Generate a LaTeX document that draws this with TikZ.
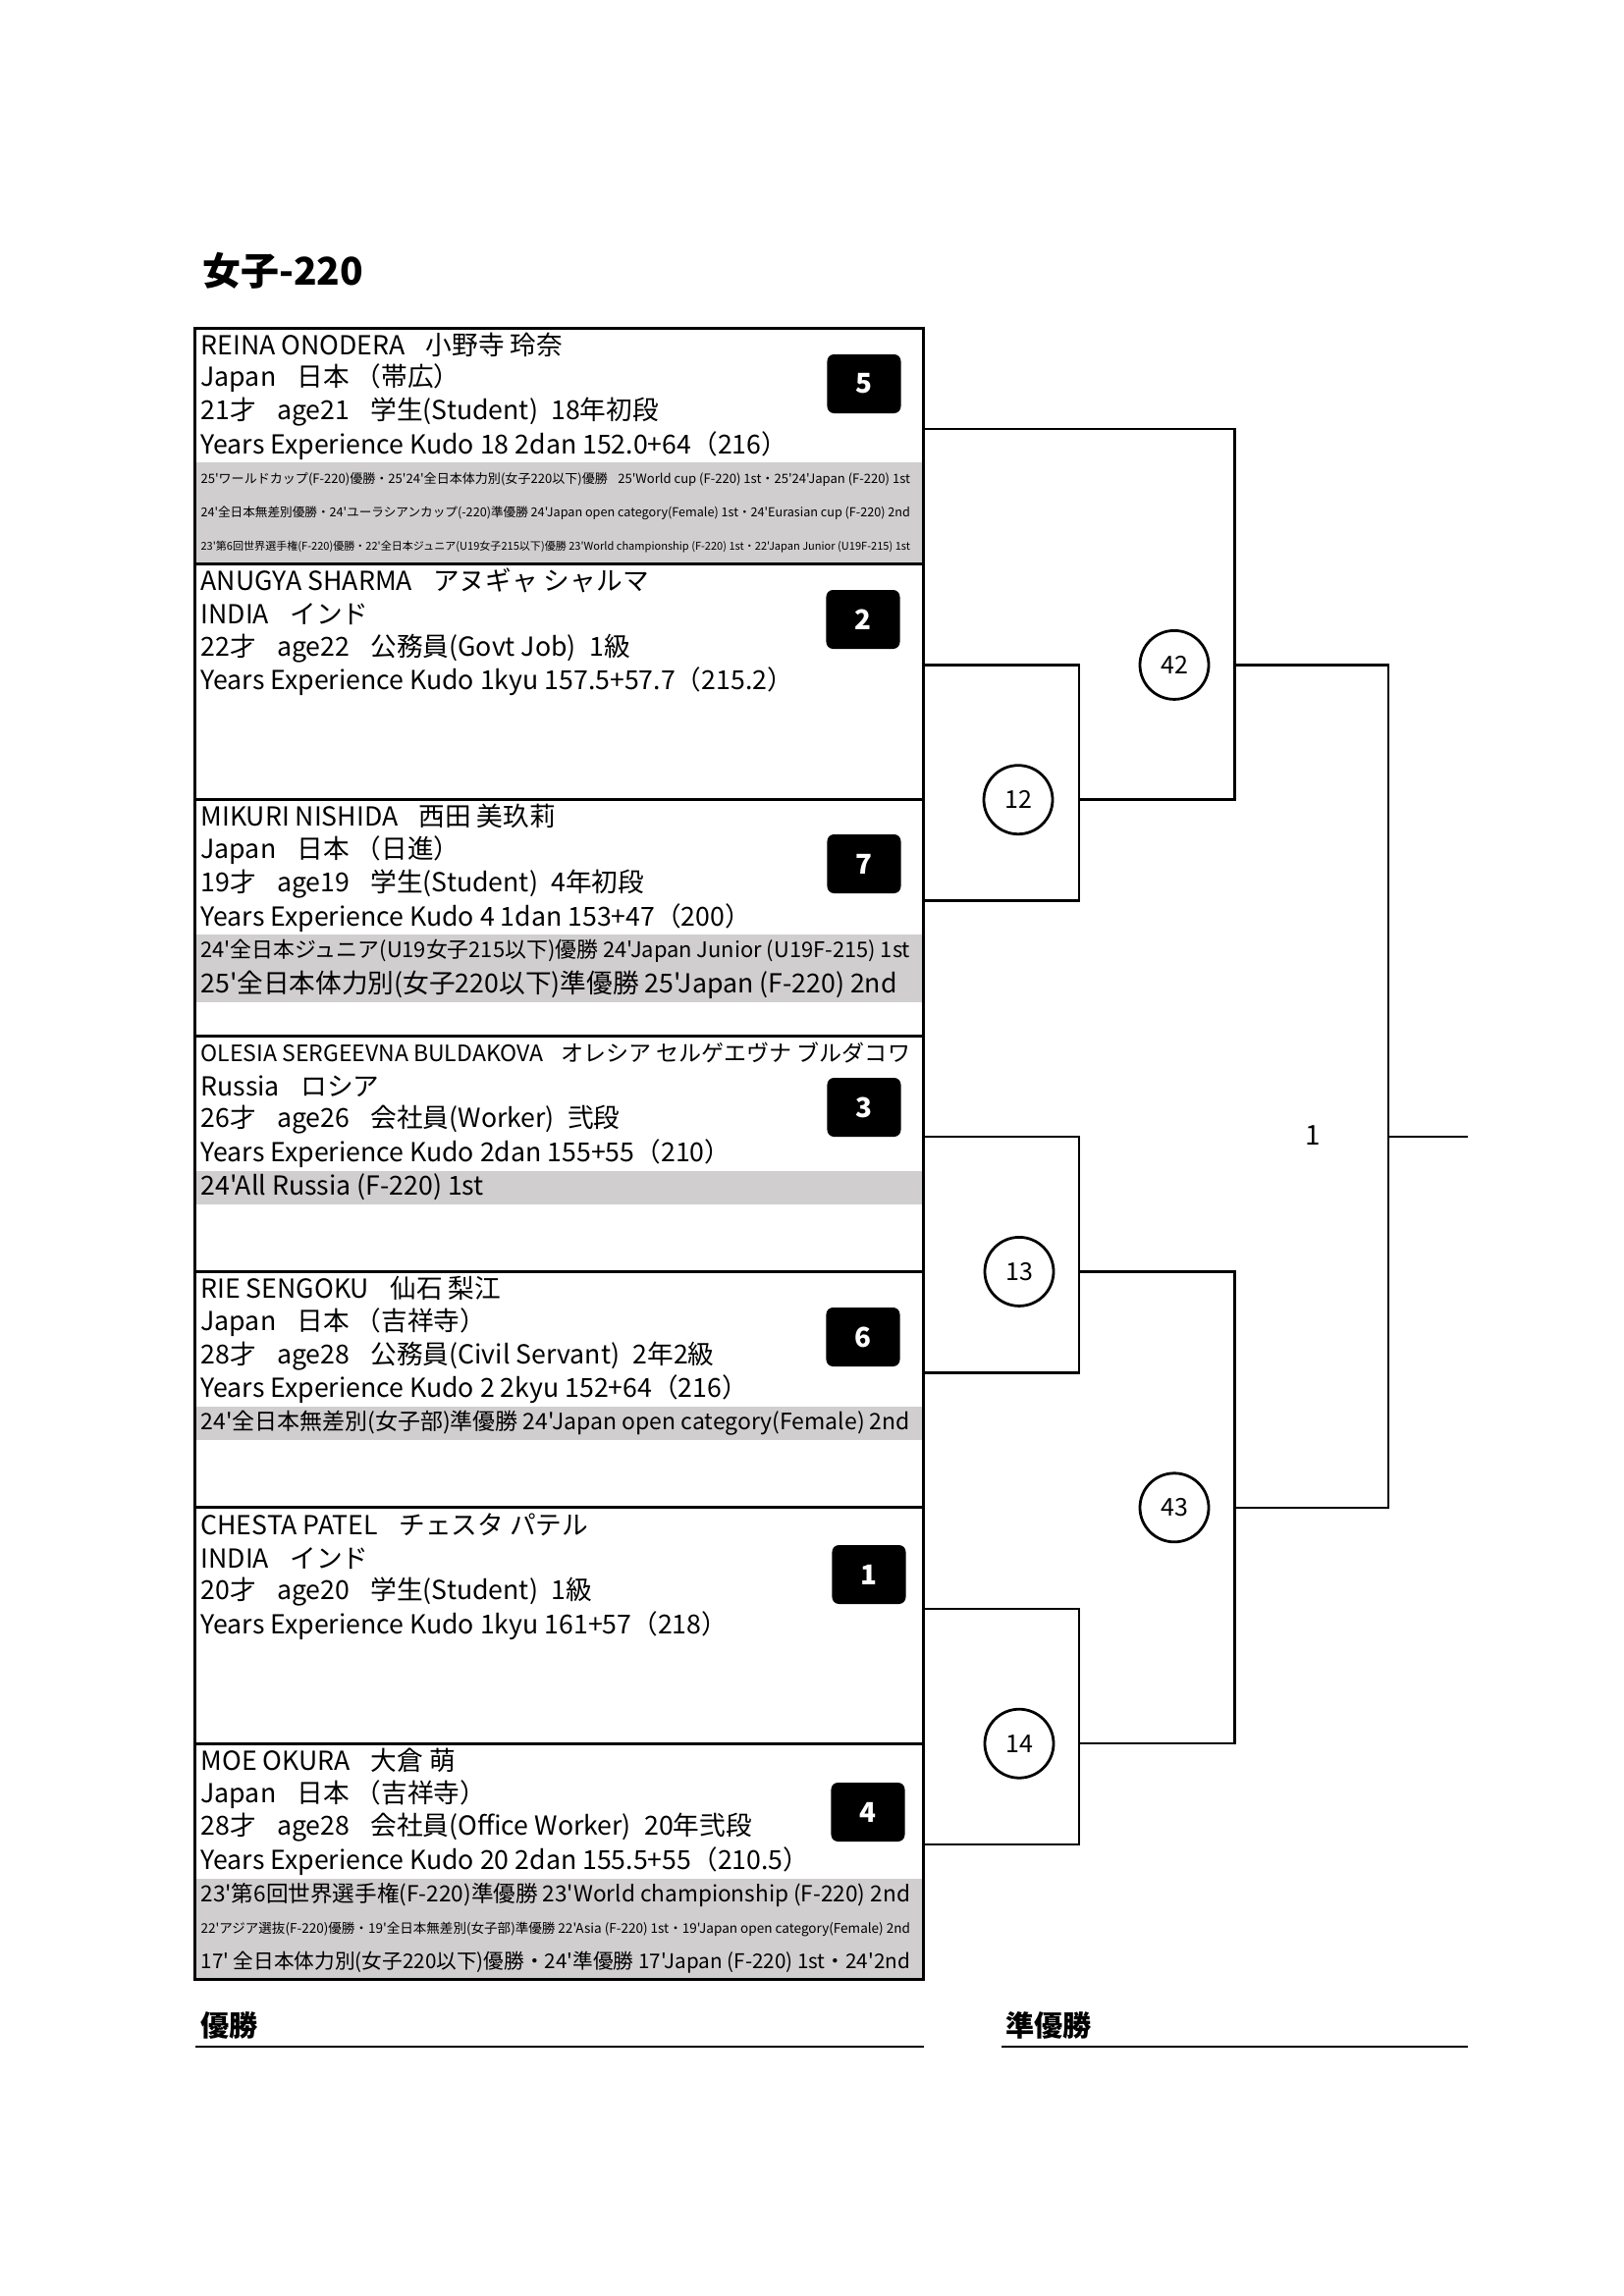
\documentclass[tikz,border=0pt]{standalone}
\usepackage{fontspec}
\usepackage{graphicx}
\newfontfamily\jpfont{Noto Sans CJK JP}
\definecolor{rowgray}{HTML}{D0CECE}
\newsavebox\rowbox
\newlength\rowmax
\setlength\rowmax{260pt}
% shrink a record line to the cell width when it is too long
\newcommand\fitrow[1]{\sbox\rowbox{#1}\ifdim\wd\rowbox>\rowmax\resizebox{\rowmax}{!}{\usebox\rowbox}\else\usebox\rowbox\fi}
\newcommand\gap{\hspace{0.8em}}

\begin{document}
\begin{tikzpicture}[
		x=0.3599pt, y=-0.3599pt,
		every node/.style={font=\jpfont},
		entry/.style={rectangle, draw, line width=1.1pt, minimum width=266.9pt, minimum height=86.5pt, inner sep=0pt},
		row/.style={anchor=west, inner sep=0pt, font=\jpfont\fontsize{9.6}{11}\selectfont},
		seed/.style={rectangle, rounded corners=2.5pt, fill=black, text=white, minimum width=27pt, minimum height=21.6pt, font=\jpfont\bfseries\fontsize{10}{12}\selectfont},
		match/.style={circle, draw, line width=1pt, fill=white, minimum size=25.2pt, inner sep=0pt, font=\jpfont\fontsize{9}{11}\selectfont},
		bracket/.style={line width=0.9pt}
	]
  \useasboundingbox (0,0) rectangle (1654,2339);
  \node (title) [anchor=west, inner sep=0pt, font=\jpfont\bfseries\fontsize{14}{16}\selectfont] at (206, 275.4) {女子-220};
  % grey record rows
  \fill[rowgray] (198.9, 471.4) rectangle (940.6, 574.4);
  \fill[rowgray] (198.9, 952.1) rectangle (940.6, 1020.8);
  \fill[rowgray] (198.9, 1192.5) rectangle (940.6, 1226.8);
  \fill[rowgray] (198.9, 1432.8) rectangle (940.6, 1467.1);
  \fill[rowgray] (198.9, 1913.6) rectangle (940.6, 2016.5);
  % entries
  \node (reina) [entry] at (569.75, 454.2) {};
  \node (anugya) [entry] at (569.75, 694.6) {};
  \node (mikuri) [entry] at (569.75, 934.9) {};
  \node (olesia) [entry] at (569.75, 1175.3) {};
  \node (rie) [entry] at (569.75, 1415.6) {};
  \node (chesta) [entry] at (569.75, 1656.0) {};
  \node (moe) [entry] at (569.75, 1896.4) {};
  \node (reina_name) [row] at (204, 351.2) {REINA ONODERA\gap 小野寺 玲奈};
  \node (reina_from) [row] at (204, 385.5) {Japan\gap 日本 （帯広）};
  \node (reina_age) [row] at (204, 419.9) {21才\gap age21\gap 学生(Student)\hspace{0.5em}18年初段};
  \node (reina_exp) [row] at (204, 454.2) {Years Experience Kudo 18 2dan 152.0+64（216）};
  \node (reina_rec1) [row] at (204, 488.5) {\fitrow{25'ワールドカップ(F-220)優勝・25'24'全日本体力別(女子220以下)優勝\gap 25'World cup (F-220) 1st・25'24'Japan (F-220) 1st}};
  \node (reina_rec2) [row] at (204, 522.9) {\fitrow{24'全日本無差別優勝・24'ユーラシアンカップ(-220)準優勝 24'Japan open category(Female) 1st・24'Eurasian cup (F-220) 2nd}};
  \node (reina_rec3) [row] at (204, 557.2) {\fitrow{23'第6回世界選手権(F-220)優勝・22'全日本ジュニア(U19女子215以下)優勝 23'World championship (F-220) 1st・22'Japan Junior (U19F-215) 1st}};
  \node (anugya_name) [row] at (204, 591.5) {ANUGYA SHARMA\gap アヌギャ シャルマ};
  \node (anugya_from) [row] at (204, 625.9) {INDIA\gap インド};
  \node (anugya_age) [row] at (204, 660.2) {22才\gap age22\gap 公務員(Govt Job)\hspace{0.5em}1級};
  \node (anugya_exp) [row] at (204, 694.6) {Years Experience Kudo 1kyu 157.5+57.7（215.2）};
  \node (mikuri_name) [row] at (204, 831.9) {MIKURI NISHIDA\gap 西田 美玖莉};
  \node (mikuri_from) [row] at (204, 866.2) {Japan\gap 日本 （日進）};
  \node (mikuri_age) [row] at (204, 900.6) {19才\gap age19\gap 学生(Student)\hspace{0.5em}4年初段};
  \node (mikuri_exp) [row] at (204, 934.9) {Years Experience Kudo 4 1dan 153+47（200）};
  \node (mikuri_rec1) [row] at (204, 969.2) {\fitrow{24'全日本ジュニア(U19女子215以下)優勝 24'Japan Junior (U19F-215) 1st}};
  \node (mikuri_rec2) [row] at (204, 1003.6) {\fitrow{25'全日本体力別(女子220以下)準優勝 25'Japan (F-220) 2nd}};
  \node (olesia_name) [row] at (204, 1072.2) {\fitrow{OLESIA SERGEEVNA BULDAKOVA\gap オレシア セルゲエヴナ ブルダコワ}};
  \node (olesia_from) [row] at (204, 1106.6) {Russia\gap ロシア};
  \node (olesia_age) [row] at (204, 1140.9) {26才\gap age26\gap 会社員(Worker)\hspace{0.5em}弐段};
  \node (olesia_exp) [row] at (204, 1175.3) {Years Experience Kudo 2dan 155+55（210）};
  \node (olesia_rec1) [row] at (204, 1209.6) {\fitrow{24'All Russia (F-220) 1st}};
  \node (rie_name) [row] at (204, 1312.6) {RIE SENGOKU\gap 仙石 梨江};
  \node (rie_from) [row] at (204, 1346.9) {Japan\gap 日本 （吉祥寺）};
  \node (rie_age) [row] at (204, 1381.3) {28才\gap age28\gap 公務員(Civil Servant)\hspace{0.5em}2年2級};
  \node (rie_exp) [row] at (204, 1415.6) {Years Experience Kudo 2 2kyu 152+64（216）};
  \node (rie_rec1) [row] at (204, 1449.9) {\fitrow{24'全日本無差別(女子部)準優勝 24'Japan open category(Female) 2nd}};
  \node (chesta_name) [row] at (204, 1553.0) {CHESTA PATEL\gap チェスタ パテル};
  \node (chesta_from) [row] at (204, 1587.3) {INDIA\gap インド};
  \node (chesta_age) [row] at (204, 1621.7) {20才\gap age20\gap 学生(Student)\hspace{0.5em}1級};
  \node (chesta_exp) [row] at (204, 1656.0) {Years Experience Kudo 1kyu 161+57（218）};
  \node (moe_name) [row] at (204, 1793.3) {MOE OKURA\gap 大倉 萌};
  \node (moe_from) [row] at (204, 1827.7) {Japan\gap 日本 （吉祥寺）};
  \node (moe_age) [row] at (204, 1862.0) {28才\gap age28\gap 会社員(Office Worker)\hspace{0.5em}20年弐段};
  \node (moe_exp) [row] at (204, 1896.4) {Years Experience Kudo 20 2dan 155.5+55（210.5）};
  \node (moe_rec1) [row] at (204, 1930.7) {\fitrow{23'第6回世界選手権(F-220)準優勝 23'World championship (F-220) 2nd}};
  \node (moe_rec2) [row] at (204, 1965.0) {\fitrow{22'アジア選抜(F-220)優勝・19'全日本無差別(女子部)準優勝 22'Asia (F-220) 1st・19'Japan open category(Female) 2nd}};
  \node (moe_rec3) [row] at (204, 1999.4) {\fitrow{17' 全日本体力別(女子220以下)優勝・24'準優勝 17'Japan (F-220) 1st・24'2nd}};
  % seeds
  \node (seed_5) [seed] at (880, 391) {5};
  \node (seed_2) [seed] at (879, 631) {2};
  \node (seed_7) [seed] at (880, 880) {7};
  \node (seed_3) [seed] at (880, 1128) {3};
  \node (seed_6) [seed] at (879, 1362) {6};
  \node (seed_1) [seed] at (885, 1604) {1};
  \node (seed_4) [seed] at (884, 1846) {4};
  % bracket
  \coordinate (reina_out) at (940.6, 437);
  \coordinate (anugya_out) at (940.6, 677.4);
  \coordinate (mikuri_out) at (940.6, 917.7);
  \coordinate (olesia_out) at (940.6, 1158.1);
  \coordinate (rie_out) at (940.6, 1398.4);
  \coordinate (chesta_out) at (940.6, 1638.8);
  \coordinate (moe_out) at (940.6, 1879.2);
  \coordinate (q12) at (1099.2, 814.7);
  \coordinate (q13) at (1099.2, 1295.4);
  \coordinate (q14) at (1099.2, 1776.2);
  \coordinate (r42) at (1257.3, 677.4);
  \coordinate (r43) at (1257.3, 1535.8);
  \coordinate (final) at (1413.9, 1158.1);
  \coordinate (champ) at (1494.5, 1158.1);
  \draw [bracket] (anugya_out) -| (q12) |- (mikuri_out);
  \draw [bracket] (olesia_out) -| (q13) |- (rie_out);
  \draw [bracket] (chesta_out) -| (q14) |- (moe_out);
  \draw [bracket] (reina_out) -| (r42) |- (q12);
  \draw [bracket] (q13) -| (r43) |- (q14);
  \draw [bracket] (r42) -| (final) |- (r43);
  \draw [bracket] (final) -- (champ);
  \node (m12) [match] at (1037, 814.7) {12};
  \node (m13) [match] at (1038, 1295.4) {13};
  \node (m14) [match] at (1038, 1776.2) {14};
  \node (m42) [match] at (1196, 677.4) {42};
  \node (m43) [match] at (1196, 1535.8) {43};
  \node (m1) [font=\jpfont\fontsize{10}{12}\selectfont] at (1337, 1157) {1};
  % winners
  \node (winner) [anchor=base west, inner sep=0pt, font=\jpfont\bfseries\fontsize{10.5}{12}\selectfont] at (204, 2074) {優勝};
  \node (runner) [anchor=base west, inner sep=0pt, font=\jpfont\bfseries\fontsize{10.5}{12}\selectfont] at (1024, 2074) {準優勝};
  \coordinate (winner_l) at (198.9, 2085);
  \coordinate (winner_r) at (940.6, 2085);
  \coordinate (runner_l) at (1020, 2085);
  \coordinate (runner_r) at (1494.5, 2085);
  \draw [bracket] (winner_l) -- (winner_r);
  \draw [bracket] (runner_l) -- (runner_r);
\end{tikzpicture}
\end{document}
